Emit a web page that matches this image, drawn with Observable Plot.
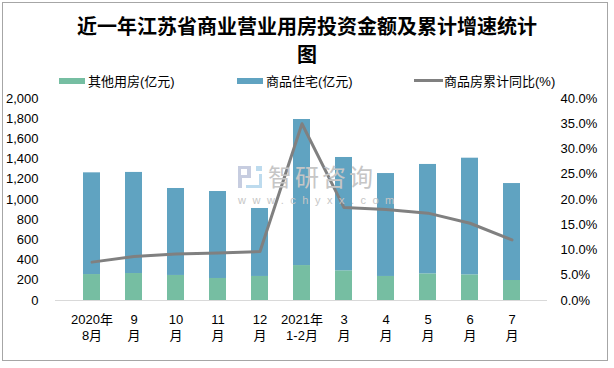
<!DOCTYPE html>
<html><head><meta charset="utf-8">
<script src="https://cdn.jsdelivr.net/npm/d3@7"></script>
<script src="https://cdn.jsdelivr.net/npm/@observablehq/plot@0.6"></script>
<style>
body{margin:0;background:#fff;}
#wrap{position:relative;width:614px;height:368px;overflow:hidden;font-family:"Liberation Sans","Noto Sans CJK SC",sans-serif;}
#frame{position:absolute;left:2px;top:2px;width:606px;height:359px;border:1px solid #a6a6a6;box-sizing:border-box;}
#title{position:absolute;left:0;top:12px;width:614px;text-align:center;font-family:"Noto Sans CJK SC",serif;font-weight:bold;font-size:20px;line-height:28px;color:#000;}
.leg{position:absolute;top:73px;font-size:13px;line-height:17px;color:#000;white-space:nowrap;}
.sw{position:absolute;}
#wm{position:absolute;left:268px;top:164px;font-family:"Noto Sans CJK SC";font-size:24px;line-height:24px;color:#c6c6c6;letter-spacing:3px;}
#wm2{position:absolute;left:238px;top:195px;font-family:"Liberation Sans";font-size:11px;line-height:11px;color:#c6c6c6;letter-spacing:6.5px;}
.lg{position:absolute;box-sizing:border-box;}
#chart{position:absolute;left:0;top:0;}
</style></head>
<body>
<div id="wrap">
<div id="chart"></div>
<div id="frame"></div>
<div id="title">近一年江苏省商业营业用房投资金额及累计增速统计<br>图</div>
<div class="sw" style="left:59px;top:78px;width:26px;height:6px;background:#76bea2"></div>
<div class="leg" style="left:88px">其他用房(亿元)</div>
<div class="sw" style="left:237px;top:78px;width:26px;height:6px;background:#60a3c1"></div>
<div class="leg" style="left:266px">商品住宅(亿元)</div>
<div class="sw" style="left:414px;top:79px;width:29px;height:3px;background:#808080"></div>
<div class="leg" style="left:444px">商品房累计同比(%)</div>
<div class="lg" style="left:238px;top:166px;width:13px;height:12px;border:3px solid #c7cde0;border-right-width:4px;"></div>
<div class="lg" style="left:238px;top:178px;width:4px;height:10px;background:#c7cde0"></div>
<div class="lg" style="left:246px;top:174px;width:16px;height:14px;border:3px solid #bddbee;border-top:none;border-left:none;"></div>
<div class="lg" style="left:256px;top:166px;width:6px;height:5px;background:#bddbee"></div>
<div id="wm">智研咨询</div>
<div id="wm2">www.chyxx.com</div>
</div>
<script>
const months = ["2020年\n8月","9\n月","10\n月","11\n月","12\n月","2021年\n1-2月","3\n月","4\n月","5\n月","6\n月","7\n月"];
const otherHousing = [257,267,248,218,238,346,294,238,264,254,198];
const residential = [1007,1001,861,861,673,1446,1122,1019,1083,1155,960];
const growth = [7.6,8.7,9.2,9.4,9.7,35.0,18.4,18.0,17.3,15.3,12.0];
const leftTicks = [0,200,400,600,800,1000,1200,1400,1600,1800,2000];
const rightTicks = [0,5,10,15,20,25,30,35,40];

const rows = [];
months.forEach((m,i)=>{rows.push({m,type:"其他用房",v:otherHousing[i]});});
months.forEach((m,i)=>{rows.push({m,type:"商品住宅",v:residential[i]});});
const lineRows = months.map((m,i)=>({m,g:growth[i]}));
const k = 2000/40;

const chart = Plot.plot({
  width:614, height:368,
  marginTop:98, marginBottom:68, marginLeft:55, marginRight:67,
  style:{fontSize:"13px", fontFamily:"Liberation Sans, Noto Sans CJK SC, sans-serif", color:"#000", background:"transparent"},
  x:{domain:months, padding:0.6, label:null},
  y:{domain:[0,2000], label:null},
  color:{domain:["其他用房","商品住宅"], range:["#76bea2","#60a3c1"]},
  marks:[
    Plot.barY(rows,{x:"m",y:"v",fill:"type"}),
    Plot.ruleY([0],{stroke:"#d9d9d9",strokeWidth:1}),
    Plot.lineY(lineRows,{x:"m",y:d=>d.g*k,stroke:"#808080",strokeWidth:3}),
    Plot.axisY({ticks:leftTicks,tickSize:0,tickPadding:17,tickFormat:d3.format(","),label:null}),
    Plot.axisY({anchor:"right",ticks:rightTicks.map(t=>t*k),tickSize:0,tickPadding:13,tickFormat:d=>(d/k).toFixed(1)+"%",label:null}),
    Plot.axisX({tickSize:0,tickPadding:11,lineHeight:1.3,label:null})
  ]
});
document.getElementById("chart").appendChild(chart);
</script>
</body></html>
